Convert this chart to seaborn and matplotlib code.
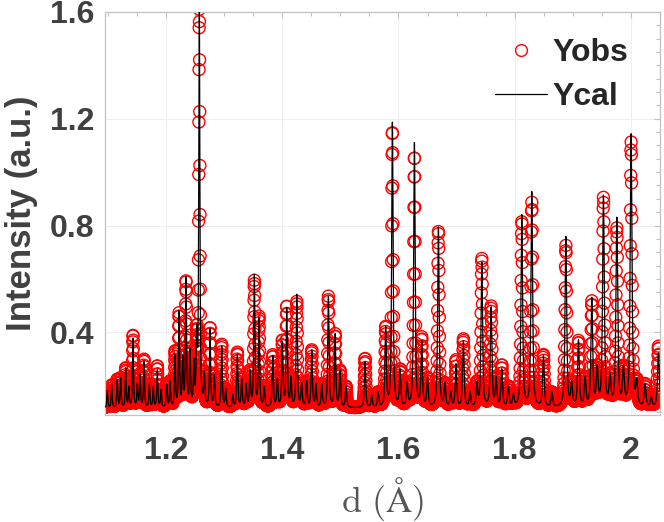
import numpy as np
import pandas as pd
import matplotlib
matplotlib.use("Agg")
import matplotlib.pyplot as plt
import seaborn as sns
from matplotlib.lines import Line2D
from matplotlib.ticker import MultipleLocator, FixedLocator, FixedFormatter

# ---- data (peak positions in d, peak tops) ----
peak_d = [1.099, 1.1065, 1.116, 1.122, 1.1306, 1.136, 1.1432, 1.1506, 1.1553, 1.1621,
          1.1713, 1.178, 1.185, 1.1914, 1.2012, 1.207, 1.2155, 1.2224, 1.2287, 1.2344,
          1.2413, 1.248, 1.2528, 1.2573, 1.2659, 1.2757, 1.2831, 1.2959, 1.3028, 1.315,
          1.3227, 1.3303, 1.338, 1.3446, 1.352, 1.360, 1.369, 1.3837, 1.3916, 1.4002,
          1.4077, 1.415, 1.425, 1.4335, 1.442, 1.4508, 1.458, 1.468, 1.4794, 1.491,
          1.4995, 1.5098, 1.5425, 1.554, 1.565, 1.578, 1.5895, 1.6028, 1.615, 1.6274,
          1.640, 1.650, 1.6687, 1.680, 1.690, 1.699, 1.7117, 1.7232, 1.735, 1.7434,
          1.7594, 1.768, 1.7778, 1.789, 1.7977, 1.8122, 1.8294, 1.8494, 1.864, 1.888,
          1.898, 1.9097, 1.9212, 1.9327, 1.942, 1.9527, 1.964, 1.9757, 1.987, 2.0003,
          2.010, 2.0244, 2.035, 2.0473]
peak_calc = [0.18, 0.20, 0.22, 0.225, 0.262, 0.19, 0.375, 0.20, 0.237, 0.287,
             0.20, 0.19, 0.256, 0.18, 0.20, 0.21, 0.306, 0.468, 0.29, 0.596,
             0.32, 0.27, 0.357, 1.63, 0.231, 0.406, 0.231, 0.343, 0.181, 0.16,
             0.312, 0.219, 0.20, 0.245, 0.608, 0.444, 0.19, 0.306, 0.22, 0.356,
             0.485, 0.22, 0.537, 0.20, 0.21, 0.328, 0.20, 0.20, 0.53, 0.387,
             0.25, 0.194, 0.287, 0.16, 0.17, 0.41, 1.19, 0.25, 0.20, 1.114,
             0.356, 0.22, 0.793, 0.20, 0.17, 0.275, 0.362, 0.17, 0.20, 0.657,
             0.487, 0.22, 0.256, 0.19, 0.16, 0.837, 0.92, 0.306, 0.17, 0.753,
             0.20, 0.362, 0.22, 0.518, 0.25, 0.903, 0.22, 0.82, 0.25, 1.136,
             0.20, 0.20, 0.15, 0.319]
peak_obs = [0.18, 0.20, 0.22, 0.225, 0.262, 0.19, 0.385, 0.20, 0.237, 0.294,
            0.20, 0.19, 0.27, 0.18, 0.20, 0.21, 0.32, 0.46, 0.29, 0.58,
            0.32, 0.27, 0.357, 1.594, 0.231, 0.41, 0.231, 0.35, 0.181, 0.16,
            0.32, 0.219, 0.20, 0.245, 0.585, 0.45, 0.19, 0.31, 0.22, 0.36,
            0.49, 0.22, 0.51, 0.20, 0.21, 0.328, 0.20, 0.20, 0.53, 0.387,
            0.25, 0.194, 0.30, 0.16, 0.17, 0.41, 1.15, 0.25, 0.20, 1.055,
            0.37, 0.22, 0.776, 0.20, 0.17, 0.29, 0.37, 0.17, 0.20, 0.671,
            0.49, 0.22, 0.27, 0.19, 0.16, 0.81, 0.88, 0.31, 0.17, 0.72,
            0.20, 0.36, 0.22, 0.505, 0.25, 0.895, 0.22, 0.78, 0.25, 1.105,
            0.20, 0.20, 0.15, 0.345]
background = 0.115
d_range = (1.095, 2.05)
n_points = 3300
rel_fwhm = 0.0018
eta = 0.7

x_ticks = [1.2, 1.4, 1.6, 1.8, 2.0]
x_ticklabels = ["1.2", "1.4", "1.6", "1.8", "2"]
y_ticks = [0.4, 0.8, 1.2, 1.6]
y_ticklabels = ["0.4", "0.8", "1.2", "1.6"]

# ---- pattern built from the read peak list (pseudo-Voigt peaks) ----
d = np.geomspace(d_range[0], d_range[1], n_points)


def pattern(tops):
    y = np.full_like(d, background)
    for c, top in zip(peak_d, tops):
        hw = rel_fwhm * c / 2.0
        u = (d - c) / hw
        shape = eta / (1.0 + u ** 2) + (1 - eta) * np.exp(-np.log(2) * u ** 2)
        y += (top - background) * shape
    return y


df = pd.DataFrame({"d": d, "Yobs": pattern(peak_obs), "Ycal": pattern(peak_calc)})

# ---- figure ----
sns.set_style("white")
plt.rcParams["font.family"] = ["Liberation Sans", "DejaVu Sans"]
plt.rcParams["mathtext.fontset"] = "cm"

fig = plt.figure(figsize=(6.64, 5.22), dpi=100)
ax = fig.add_axes([105 / 664, 1 - 415 / 522, 555 / 664, 403 / 522])

sns.scatterplot(data=df, x="d", y="Yobs", ax=ax, marker="o", s=74,
                facecolor="none", edgecolor="red", linewidth=1.0, zorder=2,
                legend=False)
sns.lineplot(data=df, x="d", y="Ycal", ax=ax, color="black", linewidth=0.9,
             zorder=3, legend=False)

ax.set_xlim(d_range)
ax.set_ylim(0.09, 1.6)

ax.xaxis.set_major_locator(FixedLocator(x_ticks))
ax.xaxis.set_major_formatter(FixedFormatter(x_ticklabels))
ax.yaxis.set_major_locator(FixedLocator(y_ticks))
ax.yaxis.set_major_formatter(FixedFormatter(y_ticklabels))
ax.xaxis.set_minor_locator(MultipleLocator(0.05))
ax.yaxis.set_minor_locator(MultipleLocator(0.05))

spine_col = "#c2c2c2"
for s in ax.spines.values():
    s.set_color(spine_col)
    s.set_linewidth(0.9)
ax.tick_params(which="both", direction="in", top=True, right=True,
               color=spine_col, width=0.8)
ax.tick_params(which="major", length=4.5)
ax.tick_params(which="minor", length=3)
ax.tick_params(axis="x", which="major", pad=15, labelsize=23, labelcolor="#404040")
ax.tick_params(axis="y", which="major", pad=8, labelsize=23, labelcolor="#404040")
for lab in ax.get_xticklabels() + ax.get_yticklabels():
    lab.set_fontweight("bold")

ax.grid(True, which="major", color="#efefef", linewidth=0.8)
ax.set_axisbelow(True)

ax.set_ylabel("Intensity (a.u.)", fontsize=25, fontweight="bold", color="#404040")
ax.yaxis.set_label_coords(-0.121, 0.5)
ax.set_xlabel(r"$\mathrm{d\ (\AA)}$", fontsize=26, color="#555555")
ax.xaxis.set_label_coords(0.5, -0.15)

handles = [Line2D([], [], marker="o", ls="none", mfc="none", mec="red", ms=8.5, mew=1.0),
           Line2D([], [], color="black", lw=0.9)]
leg = ax.legend(handles, ["Yobs", "Ycal"], loc="upper right",
                bbox_to_anchor=(628 / 664, 1 - 38 / 522), bbox_transform=fig.transFigure,
                frameon=False, borderpad=0, borderaxespad=0, handlelength=1.65,
                handletextpad=0.15, labelspacing=0.45,
                prop={"family": "Liberation Sans", "weight": "bold", "size": 23})

fig.savefig("out.png", dpi=100)
